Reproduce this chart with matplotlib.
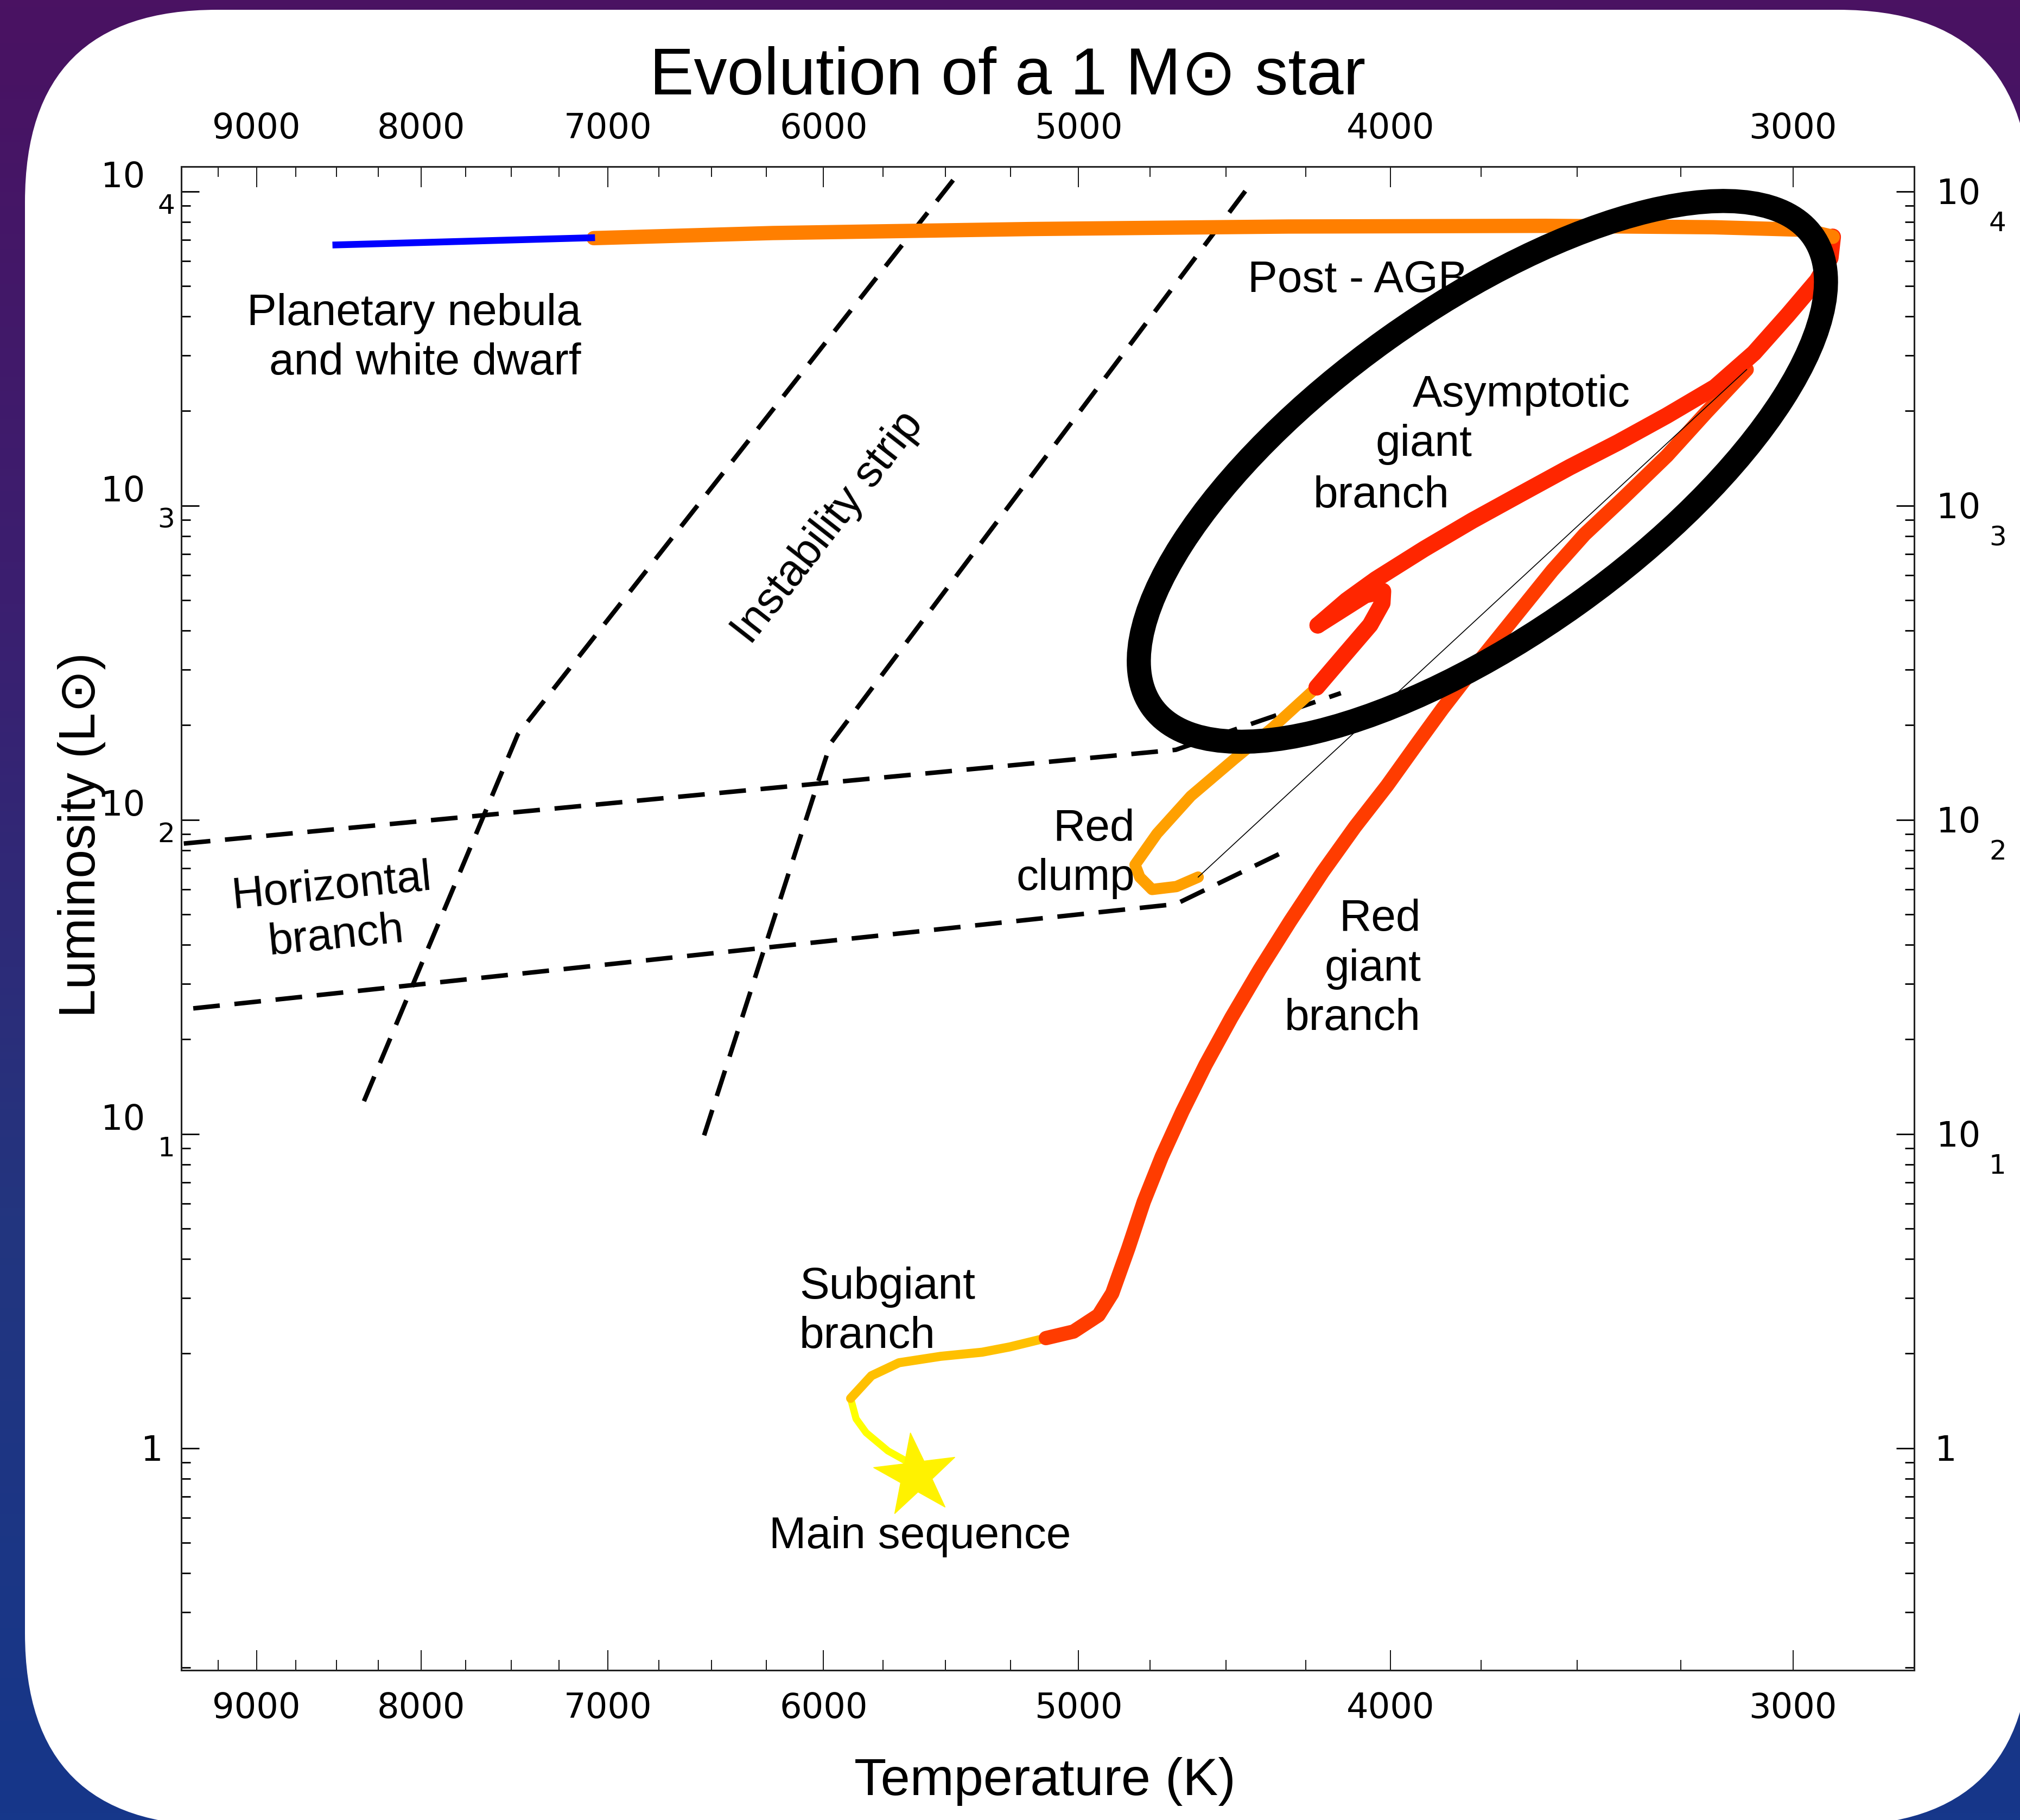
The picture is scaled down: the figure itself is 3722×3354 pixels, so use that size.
import numpy as np
import matplotlib.pyplot as plt
from matplotlib.patches import Ellipse, FancyBboxPatch
from matplotlib.colors import LinearSegmentedColormap
from matplotlib.markers import MarkerStyle
from matplotlib.ticker import FixedLocator, LogLocator, NullFormatter
from matplotlib import transforms

W, H, DPI = 3722, 3354, 100
plt.rcParams['font.family'] = ['DejaVu Sans']
SANS = ['Liberation Sans', 'DejaVu Sans']

# ---- track of a 1 Msun star (T in K, L in Lsun) ----
ms_T = [5617, 5656, 5730, 5820, 5862, 5885]
ms_L = [0.82, 0.91, 0.98, 1.12, 1.24, 1.44]

sgb_T = [5885, 5798, 5685, 5518, 5357, 5252, 5118]
sgb_L = [1.44, 1.70, 1.87, 1.96, 2.02, 2.10, 2.24]

rgb_T = [5118, 5018, 4929, 4881, 4825, 4772, 4711, 4642, 4566, 4482, 4393,
         4297, 4199, 4103, 4010, 3926, 3854, 3756, 3660, 3563, 3482, 3388,
         3283, 3191, 3101]
rgb_L = [2.24, 2.35, 2.65, 3.11, 4.33, 6.09, 8.47, 11.8, 16.6, 23.5, 33.3,
         47.7, 68.2, 95.0, 128.5, 174, 226, 318, 442, 622, 810, 1054,
         1440, 1985, 2710]

clump_T = [4590, 4662, 4744, 4786, 4802, 4727, 4614, 4473, 4351, 4217]
clump_L = [65.7, 61.3, 60.0, 65.7, 71.9, 90.4, 119, 156, 197, 264]

hook_T = [4217, 4129, 4059, 4024, 4022, 4073, 4214]
hook_L = [264, 340, 417, 489, 534, 519, 416]

agb_T = [4214, 4128, 4043, 3905, 3773, 3644, 3519, 3400, 3284, 3172, 3085, 3011, 2949, 2921, 2916]
agb_L = [416, 499, 582, 728, 896, 1090, 1325, 1588, 1931, 2381, 3058, 4045, 5198, 6143, 7167]

pagb_T = [2916, 2926, 2978, 3176, 3580, 4304, 5174, 6222, 7072]
pagb_L = [7167, 7230, 7550, 7690, 7770, 7730, 7590, 7370, 7100]

wd_T = [7065, 8524]
wd_L = [7125, 6751]

zams_T, zams_L = 5617, 0.82

# dashed guides: instability strip edges and horizontal branch band
strip_blue_T = [5469, 7466, 8340]
strip_blue_L = [10860, 187, 12.5]
strip_red_T = [4438, 5970, 6539]
strip_red_L = [10020, 175, 9.7]
hb_top_T = [9480, 4664, 4145]
hb_top_L = [84.0, 167, 253]
hb_bot_T = [9416, 4664, 4321]
hb_bot_L = [25.1, 53.9, 78.8]

# highlighted AGB region (centre in data units)
agb_ring_T, agb_ring_L = 3746, 1285

t_ticks = [3000, 4000, 5000, 6000, 7000, 8000, 9000]
t_minor = [t for t in range(2750, 9501, 250) if t % 1000]
l_decades = [1, 2, 3, 4]


def at(x, y):
    # pixel position in the reference -> inches from lower-left
    return x / DPI, (H - y) / DPI


fig = plt.figure(figsize=(W / DPI, H / DPI), dpi=DPI)

# slide background with white rounded card
bg = fig.add_axes([0, 0, 1, 1])
bg.set_zorder(-1)
cmap = LinearSegmentedColormap.from_list(
    'slide', ['#4a1262', '#3b1f70', '#23357f', '#16378a'])
bg.imshow(np.linspace(0, 1, 256)[:, None], cmap=cmap, aspect='auto',
          extent=[0, 1, 0, 1])
bg.set_xlim(0, 1)
bg.set_ylim(0, 1)
bg.axis('off')
card = FancyBboxPatch(at(46, 3364), 36.95, 33.46,
                      boxstyle='round,pad=0,rounding_size=3.54',
                      transform=fig.dpi_scale_trans, fc='white', ec='none',
                      clip_on=False)
bg.add_artist(card)

ax = fig.add_axes([334 / W, (H - 3078) / H, (3527 - 334) / W, (3078 - 307) / H])
ax.set_facecolor('white')
ax.set_xscale('log')
ax.set_yscale('log')
ax.set_xlim(9497, 2751)
ax.set_ylim(0.1964, 11994)

# guides
dash = dict(color='black', lw=6, ls=(0, (5.9, 3.25)), zorder=2)
ax.plot(strip_blue_T, strip_blue_L, **dash)
ax.plot(strip_red_T, strip_red_L, **dash)
ax.plot(hb_top_T, hb_top_L, **dash)
ax.plot(hb_bot_T, hb_bot_L, **dash)

# evolutionary track
seg = dict(solid_capstyle='round', solid_joinstyle='round', zorder=3)
ax.plot(ms_T, ms_L, color='#FFFF00', lw=9.5, **seg)
ax.plot(sgb_T, sgb_L, color='#FFC000', lw=12, **seg)
ax.plot(rgb_T, rgb_L, color='#FF3C00', lw=19, **seg)
ax.plot(clump_T, clump_L, color='#FFA000', lw=15, **seg)
ax.plot(hook_T, hook_L, color='#FF2600', lw=22, **seg)
ax.plot(agb_T, agb_L, color='#FF2600', lw=22, **seg)
ax.plot(pagb_T, pagb_L, color='#FF7F00', lw=19, **seg)
ax.plot(wd_T, wd_L, color='#0000FF', lw=9, solid_capstyle='butt', zorder=3)
ax.plot([rgb_T[-1], clump_T[0]], [rgb_L[-1], clump_L[0]],
        color='black', lw=1.2, zorder=4)
star = MarkerStyle('*', transform=transforms.Affine2D().rotate_deg(7))
ax.plot([zams_T], [zams_L], marker=star, ms=115, color='#FFF200',
        mec='#FFF200', ls='none', zorder=4)

# black ring around the AGB
ring_tr = fig.dpi_scale_trans + transforms.ScaledTranslation(
    agb_ring_T, agb_ring_L, ax.transData)
ring = Ellipse((0, 0), 14.95, 6.01, angle=35.5, transform=ring_tr,
               fill=False, ec='black', lw=32, zorder=6)
ax.add_artist(ring)

# ticks
ax.xaxis.set_major_locator(FixedLocator(t_ticks))
ax.xaxis.set_major_formatter(plt.FixedFormatter([str(t) for t in t_ticks]))
ax.xaxis.set_minor_locator(FixedLocator(t_minor))
ax.xaxis.set_minor_formatter(NullFormatter())
ax.yaxis.set_major_locator(FixedLocator([1, 10, 100, 1000, 10000]))
ax.yaxis.set_major_formatter(NullFormatter())
ax.yaxis.set_minor_locator(LogLocator(base=10, subs=np.arange(2, 10), numticks=30))
ax.yaxis.set_minor_formatter(NullFormatter())
ax.tick_params(axis='x', which='major', direction='in', length=27, width=1.3,
               top=True, bottom=True, labeltop=True, labelbottom=True,
               labelsize=46, pad=28)
ax.tick_params(axis='x', which='minor', direction='in', length=14, width=1.3,
               top=True, bottom=True)
ax.tick_params(axis='y', which='major', direction='in', length=24, width=2,
               left=True, right=True)
ax.tick_params(axis='y', which='minor', direction='in', length=12.5, width=2,
               left=True, right=True)
for sp in ax.spines.values():
    sp.set_linewidth(2.2)
    sp.set_color('#222222')

# "10" with the exponent set below it, as in the original
yc = ('axes fraction', 'data')
for k in l_decades:
    v = 10.0 ** k
    ax.annotate('10', xy=(0, v), xycoords=yc, xytext=(-48.2, 5.5),
                textcoords='offset points', ha='right', va='baseline', fontsize=46)
    ax.annotate(str(k), xy=(0, v), xycoords=yc, xytext=(-8.6, -29.7),
                textcoords='offset points', ha='right', va='baseline', fontsize=36)
    ax.annotate('10', xy=(1, v), xycoords=yc, xytext=(29.5, -16.8),
                textcoords='offset points', ha='left', va='baseline', fontsize=46)
    ax.annotate(str(k), xy=(1, v), xycoords=yc, xytext=(99.4, -53.1),
                textcoords='offset points', ha='left', va='baseline', fontsize=36)
ax.annotate('1', xy=(0, 1), xycoords=yc, xytext=(-24, -16.8),
            textcoords='offset points', ha='right', va='baseline', fontsize=46)
ax.annotate('1', xy=(1, 1), xycoords=yc, xytext=(27, -16.8),
            textcoords='offset points', ha='left', va='baseline', fontsize=46)

# labels on the diagram (multi-line ones are pinned at their last baseline)
lab = dict(transform=fig.dpi_scale_trans, fontsize=59, family=SANS,
           linespacing=1.26, zorder=3)
ax.text(*at(1071, 690), 'Planetary nebula\nand white dwarf', ha='right',
        va='baseline', multialignment='right', **lab)
ax.text(*at(2299, 538), 'Post - AGB', ha='left', va='baseline', **lab)
ax.text(*at(2603, 749), 'Asymptotic', ha='left', va='baseline', **lab)
ax.text(*at(2534, 840), 'giant', ha='left', va='baseline', **lab)
ax.text(*at(2420, 935), 'branch', ha='left', va='baseline', **lab)
ax.text(*at(2091, 1640), 'Red\nclump', ha='right', va='baseline',
        multialignment='right', **lab)
ax.text(*at(2618, 1898), 'Red\ngiant\nbranch', ha='right', va='baseline',
        multialignment='right', **lab)
ax.text(*at(1473, 2484), 'Subgiant\nbranch', ha='left', va='baseline',
        multialignment='left', **lab)
ax.text(*at(1417, 2853), 'Main sequence', ha='left', va='baseline', **lab)
ax.text(*at(615, 1681), 'Horizontal\nbranch', ha='center', va='center',
        multialignment='center', rotation=5.5, rotation_mode='anchor', **lab)
ax.text(*at(1526, 973), 'Instability strip', ha='center', va='center',
        rotation=52, rotation_mode='anchor', **lab)

fig.text(*at(1857, 173), 'Evolution of a 1 M\u2299 star', transform=fig.dpi_scale_trans,
         ha='center', va='baseline', fontsize=88, family=SANS)
fig.text(*at(1925, 3308), 'Temperature (K)', transform=fig.dpi_scale_trans,
         ha='center', va='baseline', fontsize=70, family=SANS)
fig.text(*at(151, 1539), 'Luminosity (L\u2299)', transform=fig.dpi_scale_trans,
         ha='center', va='center', rotation=90, fontsize=68, family=SANS)

fig.savefig('out.png', dpi=DPI)
